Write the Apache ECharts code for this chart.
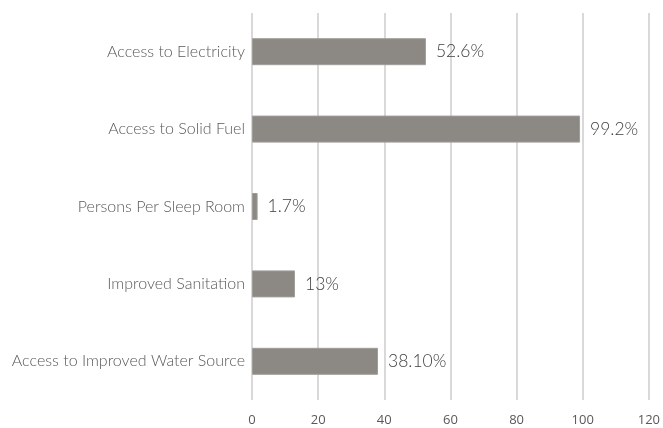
<!DOCTYPE html>
<html>
<head>
<meta charset="utf-8">
<style>
  html, body { margin: 0; padding: 0; background: #ffffff; }
  #chart { width: 663px; height: 428px; }
</style>
<script src="https://cdn.jsdelivr.net/npm/echarts@6/dist/echarts.min.js"></script>
</head>
<body>
<div id="chart"></div>
<script>
// Household indicators, top to bottom
const categories = [
  'Access to Electricity',
  'Access to Solid Fuel',
  'Persons Per Sleep Room',
  'Improved Sanitation',
  'Access to Improved Water Source'
];
const values = [52.6, 99.2, 1.7, 13, 38.1];
const valueLabels = ['52.6%', '99.2%', '1.7%', '13%', '38.10%'];
const xTicks = [0, 20, 40, 60, 80, 100, 120];

const chart = echarts.init(document.getElementById('chart'), null, { renderer: 'canvas' });

chart.setOption({
  animation: false,
  backgroundColor: '#ffffff',
  grid: { left: 252, right: 11, top: 13, bottom: 28, containLabel: false },
  xAxis: {
    type: 'value',
    min: xTicks[0],
    max: xTicks[xTicks.length - 1],
    interval: xTicks[1] - xTicks[0],
    axisLine: { show: false },
    axisTick: { show: false },
    splitLine: { show: true, lineStyle: { color: '#d9d9d9', width: 2 } },
    axisLabel: {
      margin: 14,
      color: '#595959',
      fontFamily: 'Open Sans',
      fontSize: 13,
      showMaxLabel: true
    }
  },
  yAxis: {
    type: 'category',
    inverse: true,
    data: categories,
    axisLine: { show: false },
    axisTick: { show: false },
    axisLabel: {
      margin: 7,
      color: '#595959',
      fontFamily: 'Lato',
      fontWeight: 300,
      fontSize: 16
    }
  },
  series: [{
    type: 'bar',
    data: values,
    barWidth: 27,
    itemStyle: { color: '#8c8985', borderColor: '#a09d99', borderWidth: 1 },
    label: {
      show: true,
      position: 'right',
      distance: 10,
      color: '#404040',
      fontFamily: 'Lato',
      fontWeight: 300,
      fontSize: 17.5,
      formatter: function (p) { return valueLabels[p.dataIndex]; }
    }
  }]
});
</script>
</body>
</html>
